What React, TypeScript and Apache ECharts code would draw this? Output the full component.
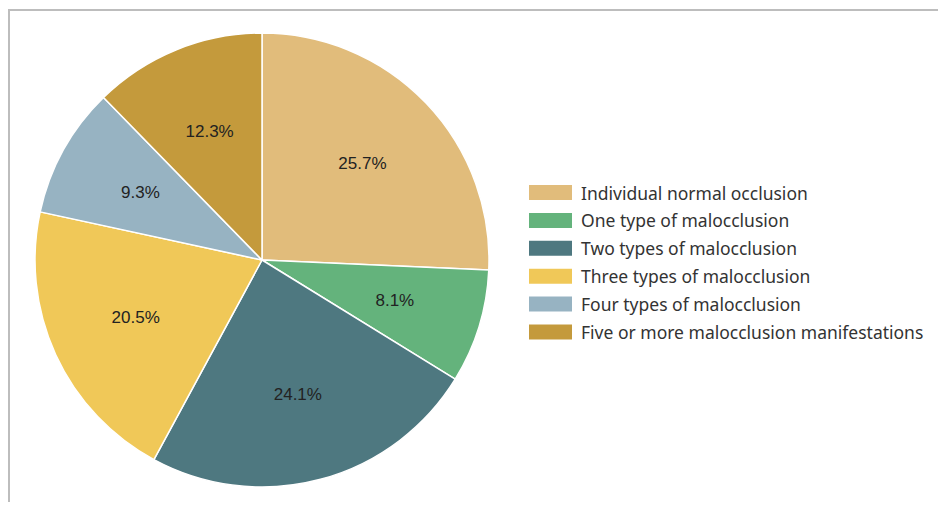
import React, { useEffect, useRef } from "react";
import * as echarts from "echarts";

const categories = [
  "Individual normal occlusion",
  "One type of malocclusion",
  "Two types of malocclusion",
  "Three types of malocclusion",
  "Four types of malocclusion",
  "Five or more malocclusion manifestations",
];
const values = [25.7, 8.1, 24.1, 20.5, 9.3, 12.3];
const colors = ["#E1BC7B", "#64B37C", "#4E7880", "#F0C858", "#97B3C2", "#C49A3C"];

export default function App() {
  const ref = useRef<HTMLDivElement>(null);
  useEffect(() => {
    const chart = echarts.init(ref.current!, null, { renderer: "svg" });
    const data = categories.map((name, i) => ({
      name,
      value: values[i],
      itemStyle: { color: colors[i] },
    }));
    chart.setOption({
      animation: false,
      graphic: [
        {
          type: "polyline",
          silent: true,
          shape: { points: [[9, 502], [9, 10], [938, 10]] },
          style: { stroke: "#bdbdbd", lineWidth: 2, fill: "none" },
        },
      ],
      legend: {
        orient: "vertical",
        left: 522,
        top: 178,
        itemWidth: 45,
        itemHeight: 17,
        itemGap: 8.9,
        icon: "rect",
        data: categories,
        textStyle: {
          fontFamily: "Noto Sans",
          fontSize: 17.5,
          lineHeight: 17,
          color: "#333",
          padding: [0, 0, 0, 3],
        },
      },
      series: [
        {
          type: "pie",
          center: [262, 260],
          radius: [0, 227],
          startAngle: 90,
          clockwise: true,
          silent: true,
          data,
          itemStyle: { borderColor: "#ffffff", borderWidth: 1.5 },
          label: { show: false },
          labelLine: { show: false },
        },
        {
          type: "pie",
          center: [262, 260],
          radius: [0, 272],
          startAngle: 90,
          clockwise: true,
          silent: true,
          data: categories.map((name, i) => ({
            name,
            value: values[i],
            itemStyle: { color: "rgba(0,0,0,0)" },
          })),
          label: {
            show: true,
            position: "inside",
            formatter: (p: any) => p.value.toFixed(1) + "%",
            fontFamily: "Liberation Sans, Arial, sans-serif",
            fontSize: 17,
            color: "#222",
          },
          labelLine: { show: false },
        },
      ],
    });
    return () => chart.dispose();
  }, []);
  return <div ref={ref} style={{ width: 938, height: 506, position: "absolute", left: 0, top: 0 }} />;
}
